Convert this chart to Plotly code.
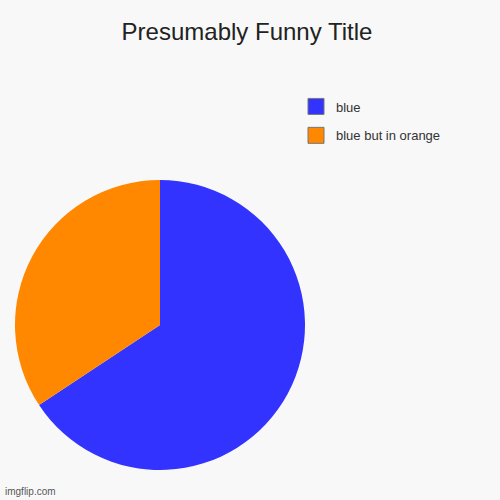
import plotly.graph_objects as go

# slice data
labels = ["blue", "blue but in orange"]
values = [65.7, 34.3]
slice_colors = ["#3333ff", "#ff8800"]

title_text = "Presumably Funny Title"
watermark = "imgflip.com"

fig = go.Figure()

fig.add_trace(go.Pie(
    labels=labels,
    values=values,
    marker=dict(colors=slice_colors, line=dict(width=0)),
    sort=False,
    direction="clockwise",
    rotation=0,
    textinfo="none",
    hoverinfo="label+percent",
    domain=dict(x=[0.03, 0.61], y=[0.06, 0.64]),
    showlegend=False,
))

# legend entries (square swatches with a grey border, like the original)
for name, color in zip(labels, slice_colors):
    fig.add_trace(go.Scatter(
        x=[None], y=[None],
        mode="markers",
        name=name,
        legendgroup=name,
        marker=dict(symbol="square", size=17, color=color,
                    line=dict(color="#777", width=1)),
        hoverinfo="skip",
    ))

fig.update_layout(
    width=500,
    height=500,
    paper_bgcolor="#f8f8f8",
    plot_bgcolor="#f8f8f8",
    margin=dict(l=0, r=0, t=0, b=0),
    font=dict(family="Liberation Sans, Arial, sans-serif", color="#222"),
    xaxis=dict(visible=False),
    yaxis=dict(visible=False),
    title=dict(
        text=title_text,
        x=0.494,
        xanchor="center",
        y=0.936,
        yanchor="middle",
        font=dict(size=24, color="#222"),
    ),
    showlegend=True,
    legend=dict(
        x=0.592,
        xanchor="left",
        y=0.817,
        yanchor="top",
        bgcolor="rgba(0,0,0,0)",
        font=dict(size=13, color="#333"),
        traceorder="grouped",
        tracegroupgap=9,
        itemsizing="trace",
    ),
    annotations=[dict(
        text=watermark,
        xref="paper", yref="paper",
        x=0.005, y=0.003,
        xanchor="left", yanchor="bottom",
        showarrow=False,
        font=dict(size=10, color="#555", shadow="1px 1px 1px #fff"),
    )],
)

fig.write_html(
    "out.html",
    config={"displayModeBar": False},
    post_script="document.body.style.margin='0';",
)
